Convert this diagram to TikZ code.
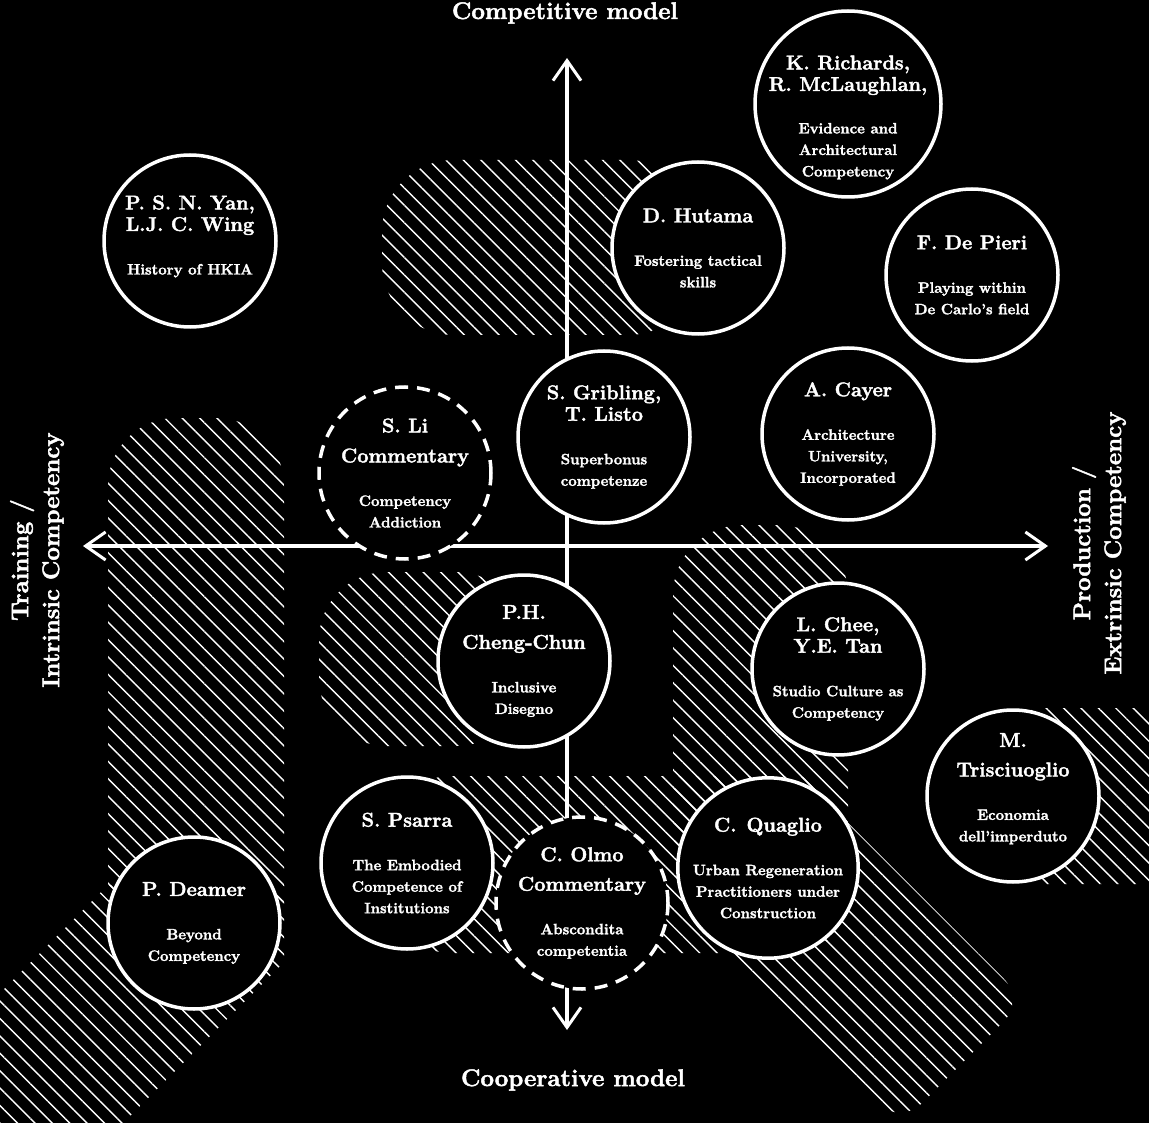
\documentclass[tikz,border=0pt]{standalone}
\usepackage{fontspec}
\setmainfont{Latin Modern Roman}[BoldFeatures={FakeBold=2}]
\usetikzlibrary{arrows.meta,patterns.meta}

\newcommand{\who}[1]{{\fontsize{20}{22}\selectfont #1}}

\begin{document}
\begin{tikzpicture}[x=1pt,y=-1pt,
hatch/.style={pattern={Lines[angle=-45,distance=12.3pt,line width=1.4pt]},pattern color=white},
pers/.style={circle,draw=white,line width=3.5pt,fill=black,text=white,
	minimum size=172pt,inner sep=0pt,align=center,
	font=\fontsize{15}{21.5}\selectfont\bfseries},
comm/.style={pers,dash pattern=on 13pt off 9pt},
axis/.style={draw=white,line width=4pt,
	{Straight Barb[length=20pt,width=28pt,line width=3pt]}-{Straight Barb[length=20pt,width=28pt,line width=3pt]}},
axislab/.style={text=white,align=center,font=\fontsize{24}{31}\selectfont\bfseries}]
\useasboundingbox (0,0) rectangle (1149,1123);
\fill[black] (0,0) rectangle (1149,1123);

\begin{scope}
\clip (0,0) rectangle (1149,1123);
\fill[hatch,rounded corners=72pt] (382,160) rectangle (700,335);
\fill[hatch,rounded corners=68pt] (108,418) rectangle (284,962);
\fill[hatch] (108,885) -- (284,885) -- (284,962) -- (123,1123) -- (-130,1123) -- cycle;
\fill[hatch,rounded corners=68pt] (319,572) rectangle (524,746);
\fill[hatch,rounded corners=70pt] (673,525) rectangle (848,900);
\fill[hatch,rounded corners=55pt] (395,776) rectangle (848,953);
\fill[hatch] (700,823) -- (848,823) [rounded corners=30pt] -- (1025,1000) -- (900,1125) [sharp corners] -- (700,925) -- cycle;
\fill[hatch,rounded corners=45pt] (1000,708) rectangle (1200,884);
\end{scope}

\coordinate (axN) at (567,58);
\coordinate (axS) at (567,1030);
\coordinate (axW) at (83,546);
\coordinate (axE) at (1048,546);
\draw[axis] (axS) -- (axN);
\draw[axis] (axW) -- (axE);

\node [pers,minimum size=186pt] (richards) at (848,104) {\who{K. Richards,}\\\who{R. McLaughlan,}\\[21pt]Evidence and\\Architectural\\Competency\\[-45.5pt]};
\node [pers] (yan) at (190,241) {\who{P. S. N. Yan,}\\\who{L.J. C. Wing}\\[22pt]History of HKIA\\[-9.5pt]};
\node [pers] (hutama) at (698,248) {\who{D. Hutama}\\[22pt]Fostering tactical\\skills};
\node [pers] (depieri) at (972,275) {\who{F. De Pieri}\\[22pt]Playing within\\De Carlo's field};
\node [comm] (li) at (405,473) {\who{S. Li}\\[8.5pt]\who{Commentary}\\[22pt]Competency\\Addiction};
\node [pers] (gribling) at (604,437) {\who{S. Gribling,}\\\who{T. Listo}\\[22pt]Superbonus\\competenze};
\node [pers] (cayer) at (848,434) {\who{A. Cayer}\\[22pt]Architecture\\University,\\Incorporated};
\node [pers] (cheng) at (524,661) {\who{P.H.}\\[8.5pt]\who{Cheng-Chun}\\[22pt]Inclusive\\Disegno};
\node [pers] (chee) at (838,669) {\who{L. Chee,}\\\who{Y.E. Tan}\\[22pt]Studio Culture as\\Competency};
\node [pers] (trisc) at (1013,796) {\who{M.}\\[8pt]\who{Trisciuoglio}\\[22pt]Economia\\dell'imperduto\\[-4pt]};
\node [pers] (psarra) at (407,863) {\who{S. Psarra}\\[22pt]The Embodied\\Competence of\\Institutions};
\node [comm] (olmo) at (582,903) {\who{C. Olmo}\\[8pt]\who{Commentary}\\[22pt]Abscondita\\competentia};
\node [pers] (quaglio) at (768,868) {\who{C.\enspace Quaglio}\\[22pt]Urban Regeneration\\Practitioners under\\Construction};
\node [pers] (deamer) at (194,923) {\who{P. Deamer}\\[22pt]Beyond\\Competency};

\node [axislab,anchor=base] (compet) at (565,19) {Competitive model};
\node [axislab] (coop) at (573,1080) {Cooperative model};
\node [axislab,rotate=90] (training) at (37,560) {Training /\\Intrinsic Competency};
\node [axislab,rotate=90] (production) at (1099,543) {Production /\\Extrinsic Competency};
\end{tikzpicture}
\end{document}
